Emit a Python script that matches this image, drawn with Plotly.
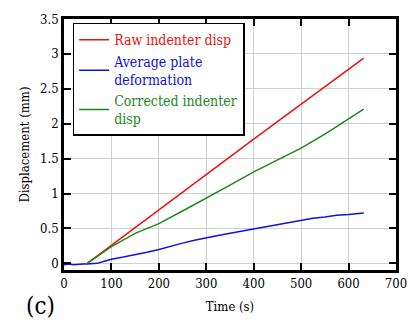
import plotly.graph_objects as go

# Time (s) and displacement (mm) values
raw_t = [49, 100, 150, 200, 250, 300, 350, 400, 450, 500, 550, 600, 632]
raw_d = [0.0, 0.26, 0.51, 0.77, 1.02, 1.28, 1.53, 1.78, 2.03, 2.28, 2.53, 2.78, 2.94]

plate_t = [0, 10, 20, 30, 40, 49, 60, 70, 85, 100, 125, 150, 175, 200, 225, 250, 275, 300,
           325, 350, 375, 400, 425, 450, 475, 500, 525, 550, 575, 600, 615, 632]
plate_d = [-0.02, -0.01, -0.02, -0.01, -0.01, -0.01, -0.01, 0.0, 0.03, 0.06, 0.09, 0.12, 0.16,
           0.20, 0.25, 0.29, 0.33, 0.37, 0.40, 0.43, 0.46, 0.49, 0.53, 0.56, 0.59, 0.62, 0.645,
           0.665, 0.69, 0.70, 0.71, 0.72]

corr_t = [49, 80, 100, 150, 200, 250, 300, 350, 400, 450, 500, 550, 600, 632]
corr_d = [0.0, 0.15, 0.24, 0.43, 0.57, 0.75, 0.93, 1.12, 1.31, 1.48, 1.65, 1.85, 2.07, 2.21]

x_ticks = [0, 100, 200, 300, 400, 500, 600, 700]
y_ticks = [0, 0.5, 1, 1.5, 2, 2.5, 3, 3.5]

RED = "#ee1111"
BLUE = "#1111dd"
GREEN = "#1a8a1a"
SERIF = "DejaVu Serif Condensed, DejaVu Serif"

fig = go.Figure()
fig.add_trace(go.Scatter(x=raw_t, y=raw_d, mode="lines",
                         line=dict(color=RED, width=1.5),
                         name=f"<span style='color:{RED}'>Raw indenter disp</span>"))
fig.add_trace(go.Scatter(x=plate_t, y=plate_d, mode="lines",
                         line=dict(color=BLUE, width=1.5),
                         name=f"<span style='color:{BLUE}'>Average plate<br>deformation</span>"))
fig.add_trace(go.Scatter(x=corr_t, y=corr_d, mode="lines",
                         line=dict(color=GREEN, width=1.5),
                         name=f"<span style='color:{GREEN}'>Corrected indenter<br>disp</span>"))

axis_common = dict(
    showline=True, linecolor="black", linewidth=2.5, mirror="ticks",
    ticks="inside", ticklen=7, tickwidth=1.5, tickcolor="black",
    showgrid=True, gridcolor="#d0d0d0", gridwidth=1, zeroline=False,
    tickfont=dict(family=SERIF, size=13, color="black"),
)

fig.update_layout(
    width=419, height=326,
    margin=dict(l=64, r=12, t=15, b=56),
    paper_bgcolor="white", plot_bgcolor="white",
    font=dict(family=SERIF, color="black"),
    xaxis=dict(range=[0, 700], tickvals=x_ticks,
               title=dict(text="Time (s)", font=dict(family=SERIF, size=13), standoff=12),
               **axis_common),
    yaxis=dict(range=[-0.095, 3.5], tickvals=y_ticks, ticktext=[str(v) for v in y_ticks],
               title=dict(text="Displacement (mm)", font=dict(family=SERIF, size=13), standoff=8),
               **axis_common),
    legend=dict(x=0.026, y=0.985, xanchor="left", yanchor="top",
                bgcolor="white", bordercolor="black", borderwidth=1.5,
                font=dict(family=SERIF, size=14),
                tracegroupgap=0, itemwidth=30),
    showlegend=True,
)

fig.add_annotation(text="(c)", x=0.0, y=0.0, xref="paper", yref="paper",
                   xanchor="center", yanchor="middle",
                   xshift=-24, yshift=-36, showarrow=False,
                   font=dict(family=SERIF, size=24, color="black"))

fig.write_html("out.html")
